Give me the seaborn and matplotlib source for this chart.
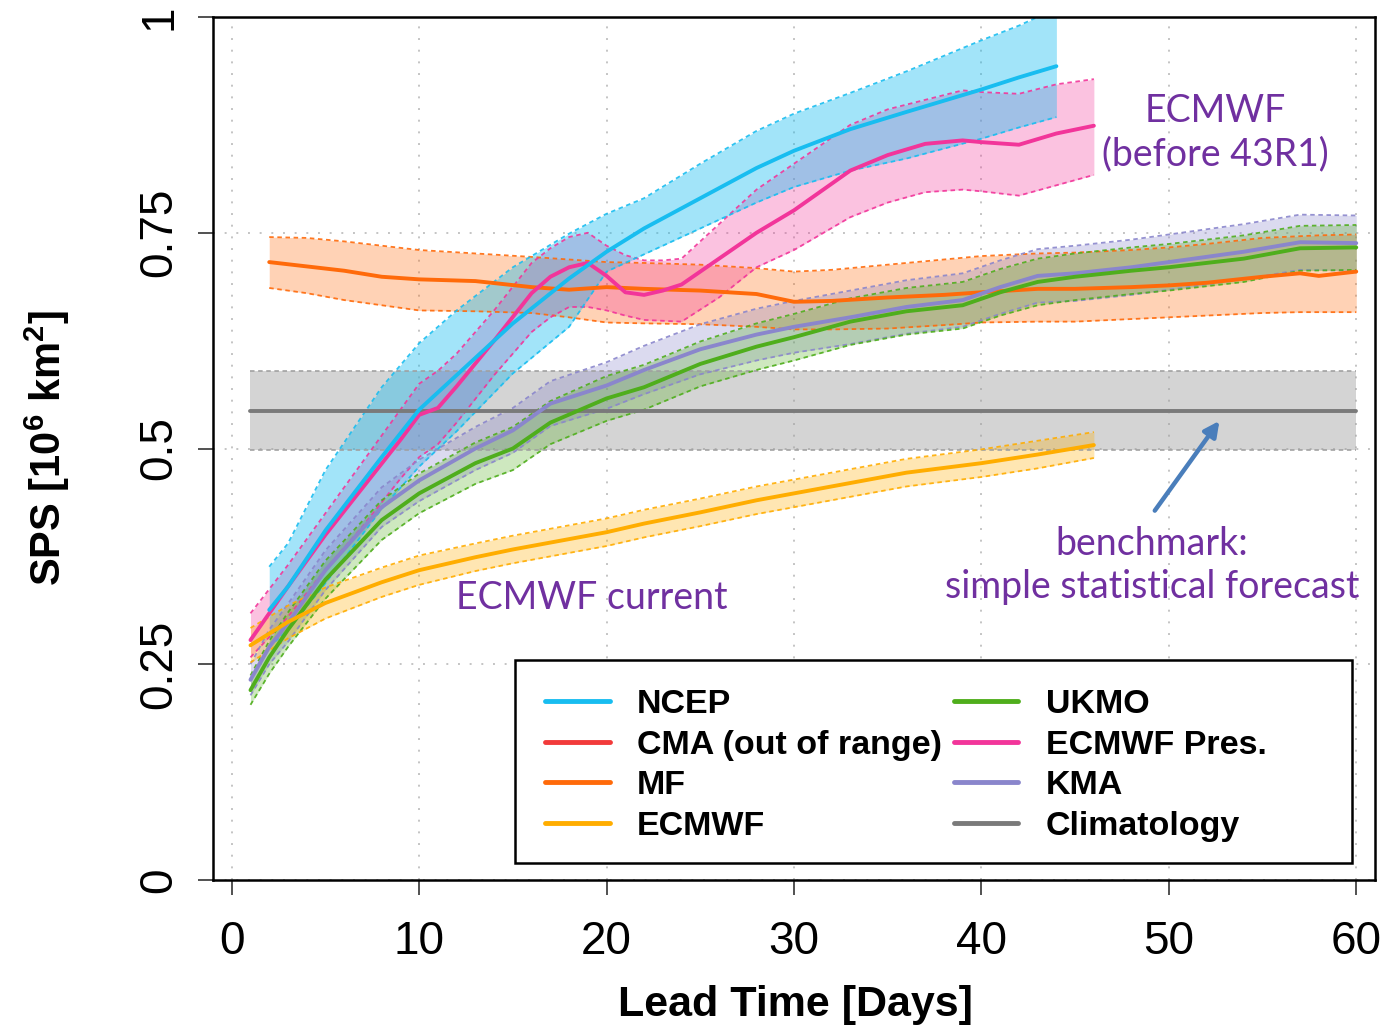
import numpy as np
import pandas as pd
import matplotlib
matplotlib.use("Agg")
import matplotlib.pyplot as plt
from matplotlib.lines import Line2D
from matplotlib.patches import Rectangle
import seaborn as sns

# ---- data ----
ncep_days = [2, 3, 5, 8, 10, 12, 15, 18, 20, 22, 25, 28, 30, 33, 36, 40, 42, 44]
ncep_mean = [0.313, 0.340, 0.405, 0.490, 0.545, 0.585, 0.645, 0.697, 0.728, 0.755, 0.790, 0.825, 0.845, 0.870, 0.890, 0.916, 0.930, 0.943]
ncep_hi = [0.363, 0.390, 0.475, 0.571, 0.622, 0.660, 0.710, 0.749, 0.772, 0.790, 0.830, 0.868, 0.888, 0.912, 0.937, 0.973, 0.990, 1.010]
ncep_lo = [0.270, 0.290, 0.344, 0.430, 0.479, 0.520, 0.587, 0.641, 0.705, 0.725, 0.755, 0.785, 0.803, 0.822, 0.836, 0.859, 0.872, 0.884]

pres_days = [1, 3, 5, 7, 9, 10, 11, 12, 14, 16, 17, 18, 19, 20, 21, 22, 23, 24, 26, 28, 30, 33, 35, 37, 39, 40, 42, 44, 46]
pres_mean = [0.278, 0.340, 0.400, 0.455, 0.510, 0.539, 0.547, 0.572, 0.625, 0.680, 0.699, 0.710, 0.715, 0.700, 0.681, 0.678, 0.683, 0.690,
             0.720, 0.750, 0.776, 0.822, 0.840, 0.853, 0.857, 0.855, 0.852, 0.865, 0.874]
pres_hi = [0.309, 0.365, 0.425, 0.485, 0.545, 0.575, 0.590, 0.610, 0.660, 0.715, 0.732, 0.745, 0.750, 0.735, 0.724, 0.718, 0.718, 0.720,
           0.760, 0.800, 0.830, 0.875, 0.893, 0.904, 0.915, 0.913, 0.911, 0.922, 0.928]
pres_lo = [0.258, 0.305, 0.360, 0.410, 0.465, 0.490, 0.505, 0.530, 0.585, 0.635, 0.652, 0.664, 0.664, 0.660, 0.654, 0.649, 0.648, 0.647,
           0.675, 0.710, 0.730, 0.768, 0.785, 0.797, 0.800, 0.798, 0.793, 0.805, 0.817]

mf_days = [2, 4, 6, 8, 10, 13, 16, 18, 20, 22, 25, 28, 30, 32, 35, 38, 40, 43, 45, 48, 50, 52, 55, 57, 58, 60]
mf_mean = [0.716, 0.711, 0.706, 0.699, 0.696, 0.694, 0.687, 0.684, 0.687, 0.685, 0.683, 0.679, 0.670, 0.671, 0.675, 0.678, 0.681,
           0.685, 0.685, 0.687, 0.689, 0.692, 0.699, 0.703, 0.700, 0.705]
mf_hi = [0.745, 0.744, 0.740, 0.735, 0.730, 0.726, 0.722, 0.719, 0.716, 0.715, 0.713, 0.709, 0.705, 0.707, 0.713, 0.719, 0.723,
         0.726, 0.727, 0.730, 0.733, 0.737, 0.744, 0.746, 0.747, 0.748]
mf_lo = [0.686, 0.680, 0.672, 0.666, 0.660, 0.659, 0.657, 0.652, 0.646, 0.645, 0.644, 0.641, 0.638, 0.638, 0.639, 0.643, 0.646,
         0.647, 0.647, 0.650, 0.652, 0.654, 0.657, 0.658, 0.658, 0.658]

kma_days = [1, 2, 3, 5, 8, 10, 13, 15, 17, 20, 22, 25, 28, 30, 33, 36, 39, 41, 43, 45, 48, 50, 54, 57, 60]
kma_mean = [0.232, 0.270, 0.298, 0.359, 0.432, 0.463, 0.500, 0.521, 0.552, 0.573, 0.591, 0.615, 0.632, 0.641, 0.652, 0.664, 0.672,
            0.687, 0.700, 0.703, 0.710, 0.716, 0.728, 0.739, 0.738]
kma_hi = [0.250, 0.290, 0.320, 0.382, 0.455, 0.487, 0.525, 0.547, 0.578, 0.600, 0.619, 0.644, 0.662, 0.671, 0.683, 0.695, 0.703,
          0.718, 0.731, 0.735, 0.742, 0.748, 0.760, 0.771, 0.770]
kma_lo = [0.214, 0.250, 0.276, 0.336, 0.409, 0.439, 0.475, 0.495, 0.526, 0.546, 0.563, 0.586, 0.602, 0.611, 0.621, 0.633, 0.641,
          0.656, 0.669, 0.671, 0.678, 0.684, 0.696, 0.707, 0.706]

ukmo_days = [1, 2, 3, 5, 8, 10, 13, 15, 17, 20, 22, 25, 28, 30, 33, 36, 39, 41, 43, 45, 48, 50, 54, 57, 60]
ukmo_mean = [0.220, 0.258, 0.290, 0.348, 0.417, 0.448, 0.483, 0.500, 0.530, 0.558, 0.571, 0.598, 0.618, 0.629, 0.647, 0.659, 0.666,
             0.681, 0.693, 0.699, 0.706, 0.710, 0.720, 0.732, 0.733]
ukmo_hi = [0.237, 0.277, 0.310, 0.370, 0.440, 0.471, 0.507, 0.525, 0.555, 0.584, 0.597, 0.624, 0.645, 0.656, 0.674, 0.686, 0.693,
           0.708, 0.720, 0.726, 0.733, 0.737, 0.747, 0.758, 0.759]
ukmo_lo = [0.203, 0.239, 0.270, 0.326, 0.394, 0.425, 0.459, 0.475, 0.505, 0.532, 0.545, 0.572, 0.591, 0.602, 0.620, 0.632, 0.639,
           0.654, 0.666, 0.672, 0.679, 0.683, 0.693, 0.706, 0.707]

ecmwf_days = [1, 3, 5, 8, 10, 13, 15, 18, 20, 22, 25, 28, 30, 33, 36, 40, 43, 46]
ecmwf_mean = [0.272, 0.299, 0.321, 0.345, 0.359, 0.374, 0.383, 0.395, 0.403, 0.413, 0.426, 0.440, 0.448, 0.460, 0.472, 0.483, 0.493, 0.504]
ecmwf_hi = [0.292, 0.318, 0.339, 0.362, 0.376, 0.390, 0.399, 0.411, 0.419, 0.429, 0.442, 0.456, 0.464, 0.476, 0.488, 0.499, 0.509, 0.519]
ecmwf_lo = [0.252, 0.280, 0.303, 0.328, 0.342, 0.358, 0.367, 0.379, 0.387, 0.397, 0.410, 0.424, 0.432, 0.444, 0.456, 0.467, 0.477, 0.489]

clim_days = [1, 60]
clim_mean = [0.5435, 0.5435]
clim_hi = [0.590, 0.590]
clim_lo = [0.498, 0.498]

legend_labels = ["NCEP", "CMA (out of range)", "MF", "ECMWF",
                 "UKMO", "ECMWF Pres.", "KMA", "Climatology"]
colors = {"NCEP": "#18bdf0", "CMA (out of range)": "#f23a3a", "MF": "#ff6a0a", "ECMWF": "#ffad00",
          "UKMO": "#4fae1c", "ECMWF Pres.": "#f2359a", "KMA": "#8a86cc", "Climatology": "#7a7a7a"}

series = [
    ("Climatology", clim_days, clim_mean, clim_lo, clim_hi, 0.45),
    ("MF", mf_days, mf_mean, mf_lo, mf_hi, 0.30),
    ("ECMWF Pres.", pres_days, pres_mean, pres_lo, pres_hi, 0.30),
    ("NCEP", ncep_days, ncep_mean, ncep_lo, ncep_hi, 0.40),
    ("KMA", kma_days, kma_mean, kma_lo, kma_hi, 0.30),
    ("UKMO", ukmo_days, ukmo_mean, ukmo_lo, ukmo_hi, 0.28),
    ("ECMWF", ecmwf_days, ecmwf_mean, ecmwf_lo, ecmwf_hi, 0.30),
]

# ---- style ----
sns.set_style("white")
plt.rcParams["font.family"] = ["Liberation Sans", "DejaVu Sans"]
plt.rcParams["mathtext.fontset"] = "custom"
plt.rcParams["mathtext.rm"] = "Liberation Sans"
plt.rcParams["mathtext.bf"] = "Liberation Sans:bold"
plt.rcParams["text.color"] = "black"
plt.rcParams["axes.labelcolor"] = "black"
plt.rcParams["xtick.color"] = "black"
plt.rcParams["ytick.color"] = "black"

fig = plt.figure(figsize=(13.83, 10.29), dpi=100)
ax = fig.add_axes([213 / 1383, 1 - 880 / 1029, 1162 / 1383, 863 / 1029])

# bands with dashed edges
for name, d, m, lo, hi, a in series:
    fc = "#a0a0a0" if name == "Climatology" else colors[name]
    ax.fill_between(d, lo, hi, color=fc, alpha=a, lw=0, zorder=1)
    for edge in (lo, hi):
        ax.plot(d, edge, color=fc, lw=1.3, ls=(0, (2.5, 2)), alpha=0.9, zorder=2)

# mean lines via seaborn
df = pd.concat([pd.DataFrame({"day": d, "sps": m, "model": name})
                for name, d, m, lo, hi, a in series], ignore_index=True)
sns.lineplot(data=df, x="day", y="sps", hue="model", palette=colors, units="model",
             estimator=None, sort=True, linewidth=2.8, legend=False, ax=ax, zorder=3)

ax.set_xlim(-1.0, 61.0)
ax.set_ylim(0, 1)
ax.set_xticks([0, 10, 20, 30, 40, 50, 60])
ax.set_yticks([0, 0.25, 0.5, 0.75, 1])
ax.set_yticklabels(["0", "0.25", "0.5", "0.75", "1"], rotation=90, va="center")
ax.tick_params(axis="both", direction="out", length=11, width=1.2, labelsize=33,
               bottom=True, left=True, color="#333333", labelcolor="black")
ax.tick_params(axis="x", pad=18)
ax.tick_params(axis="y", pad=12)
ax.grid(True, color="#c4c4c4", linestyle=(0, (1, 5)), linewidth=1.4)
for s in ax.spines.values():
    s.set_linewidth(1.8)
    s.set_color("black")

ax.set_xlabel("Lead Time [Days]", fontsize=31, fontweight="bold", color="black")
ax.set_ylabel(r"SPS [10$^{\mathbf{6}}$ km$^{\mathbf{2}}$]", fontsize=30, fontweight="bold", color="black")
ax.xaxis.set_label_coords(0.501, -0.122)
ax.yaxis.set_label_coords(-0.121, 0.5)

# legend: frame drawn separately to match the wide box
W, H = 1162.0, 863.0
ax.add_patch(Rectangle(((515 - 213) / W, (880 - 863) / H), (1352 - 515) / W, (863 - 660) / H,
                       transform=ax.transAxes, fill=True, facecolor="white", edgecolor="black",
                       lw=1.8, zorder=5))
handles = [Line2D([0], [0], color=colors[l], lw=3.5) for l in legend_labels]
leg = ax.legend(handles, legend_labels, ncol=2, loc="upper left",
                bbox_to_anchor=((545 - 213) / W, (880 - 689) / H),
                frameon=False,
                prop={"family": ["Liberation Sans", "DejaVu Sans"], "weight": "bold", "size": 24.5},
                handlelength=1.9, handletextpad=0.8, columnspacing=0.35, labelspacing=0.28,
                borderpad=0, borderaxespad=0)
leg.set_zorder(6)
for t in leg.get_texts():
    t.set_color("black")

# annotations
purple = "#7030a0"
afont = ["Lato", "DejaVu Sans"]
ax.text(19.2, 0.327, "ECMWF current", color=purple, fontsize=27, family=afont, ha="center", va="center")
ax.text(52.5, 0.866, "ECMWF\n(before 43R1)", color=purple, fontsize=27, family=afont, ha="center", va="center",
        linespacing=1.25)
ax.text(49.1, 0.364, "benchmark:\nsimple statistical forecast", color=purple, fontsize=27, family=afont,
        ha="center", va="center", linespacing=1.25)
ax.annotate("", xy=(52.7, 0.532), xytext=(49.25, 0.428),
            arrowprops=dict(arrowstyle="-|>,head_length=0.9,head_width=0.45", color="#4a7ebb", lw=3.2,
                            shrinkA=0, shrinkB=0))

fig.savefig("out.png", dpi=100)
